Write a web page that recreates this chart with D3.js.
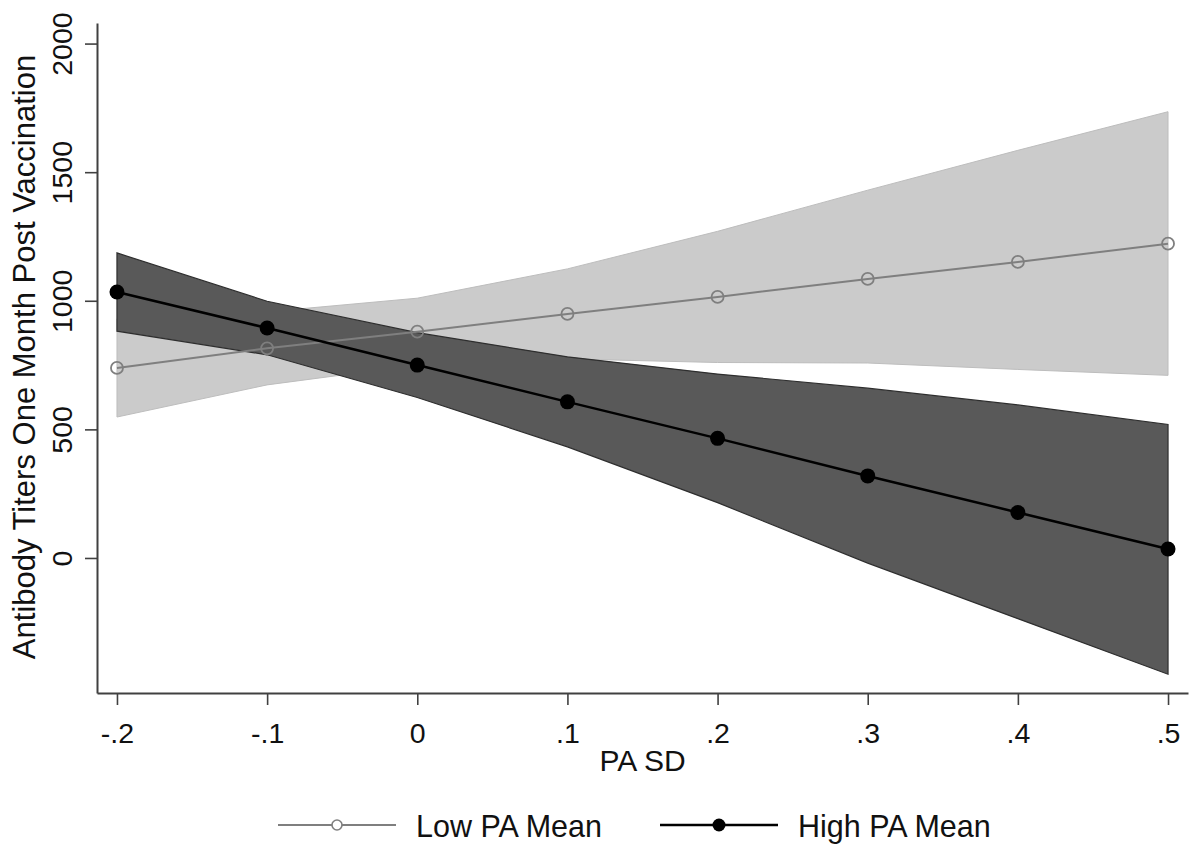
<!DOCTYPE html>
<html>
<head>
<meta charset="utf-8">
<script src="https://cdn.jsdelivr.net/npm/d3@7"></script>
<style>
  body { margin: 0; background: #fff; }
  text { font-family: Arial, "Liberation Sans", sans-serif; fill: #111; }
</style>
</head>
<body>
<svg id="chart" width="1194" height="846"></svg>
<script>
// values
const paSD = [-0.2, -0.1, 0, 0.1, 0.2, 0.3, 0.4, 0.5];
const lowMean = [739, 815, 880, 949, 1015, 1085, 1151, 1222];
const lowUpper = [930, 957, 1010, 1124, 1270, 1430, 1585, 1735];
const lowLower = [548, 673, 750, 774, 760, 758, 733, 710];
const highMean = [1034, 894, 750, 607, 465, 319, 177, 35];
const highUpper = [1186, 998, 876, 782, 715, 660, 595, 519];
const highLower = [882, 790, 624, 432, 215, -20, -236, -452];

const xTicks = [-0.2, -0.1, 0, 0.1, 0.2, 0.3, 0.4, 0.5];
const xTickLabels = ["-.2", "-.1", "0", ".1", ".2", ".3", ".4", ".5"];
const yTicks = [0, 500, 1000, 1500, 2000];
const seriesNames = ["Low PA Mean", "High PA Mean"];

const svg = d3.select("#chart");

const x = d3.scaleLinear().domain([-0.2133, 0.5133]).range([97, 1188]);
const y = d3.scaleLinear().domain([-525, 2080]).range([693, 23]);

const rows = (mean, lo, hi) =>
  paSD.map((v, i) => ({ x: v, m: mean[i], lo: lo[i], hi: hi[i] }));

const low = rows(lowMean, lowLower, lowUpper);
const high = rows(highMean, highLower, highUpper);

const area = d3.area().x((d) => x(d.x)).y0((d) => y(d.lo)).y1((d) => y(d.hi));
const line = d3.line().x((d) => x(d.x)).y((d) => y(d.m));

// confidence bands
svg.append("path").datum(low).attr("d", area)
  .attr("fill", "#cbcbcb").attr("stroke", "#bdbdbd").attr("stroke-width", 1);
svg.append("path").datum(high).attr("d", area)
  .attr("fill", "#595959").attr("stroke", "#2e2e2e").attr("stroke-width", 1.2);

// low mean line + hollow markers
svg.append("path").datum(low).attr("d", line)
  .attr("fill", "none").attr("stroke", "#7f7f7f").attr("stroke-width", 2);
svg.selectAll(".lowpt").data(low).enter().append("circle")
  .attr("class", "lowpt")
  .attr("cx", (d) => x(d.x)).attr("cy", (d) => y(d.m)).attr("r", 6)
  .attr("fill", "none").attr("stroke", "#7f7f7f").attr("stroke-width", 1.8);

// high mean line + filled markers
svg.append("path").datum(high).attr("d", line)
  .attr("fill", "none").attr("stroke", "#000").attr("stroke-width", 2.5);
svg.selectAll(".highpt").data(high).enter().append("circle")
  .attr("class", "highpt")
  .attr("cx", (d) => x(d.x)).attr("cy", (d) => y(d.m)).attr("r", 7.5)
  .attr("fill", "#000");

// axes
const xAxis = svg.append("g").attr("transform", "translate(0,693)")
  .call(d3.axisBottom(x).tickValues(xTicks)
    .tickFormat((d, i) => xTickLabels[i]).tickSize(12).tickPadding(8).tickSizeOuter(0));
const yAxis = svg.append("g").attr("transform", "translate(97,0)")
  .call(d3.axisLeft(y).tickValues(yTicks).tickFormat(d3.format("d"))
    .tickSize(12).tickSizeOuter(0));

[xAxis, yAxis].forEach((g) => {
  g.select(".domain").attr("stroke", "#404040").attr("stroke-width", 2);
  g.selectAll(".tick line").attr("stroke", "#404040").attr("stroke-width", 1.6);
  g.selectAll(".tick text").attr("fill", "#111")
    .style("font-size", "28.5px").style("font-family", "Arial, 'Liberation Sans', sans-serif");
});

xAxis.selectAll(".tick text").attr("dy", 0).attr("y", 50);

yAxis.selectAll(".tick text")
  .attr("x", null).attr("dy", 0)
  .attr("text-anchor", "middle")
  .attr("transform", "translate(-25,0) rotate(-90)");

// axis titles
svg.append("text")
  .attr("x", x(0.15)).attr("y", 771)
  .attr("text-anchor", "middle").style("font-size", "30px")
  .text("PA SD");

svg.append("text")
  .attr("transform", "translate(35,357) rotate(-90)")
  .attr("text-anchor", "middle").style("font-size", "31px")
  .text("Antibody Titers One Month Post Vaccination");

// legend
const legend = svg.append("g");
const addKey = (props) => {
  const defaultCtx = { x0: 0, stroke: "#000", width: 2, hollow: false, r: 5, label: "" };
  const ctx = { ...defaultCtx, ...props };
  legend.append("line")
    .attr("x1", ctx.x0).attr("x2", ctx.x0 + 118).attr("y1", 825).attr("y2", 825)
    .attr("stroke", ctx.stroke).attr("stroke-width", ctx.width);
  legend.append("circle")
    .attr("cx", ctx.x0 + 59).attr("cy", 825).attr("r", ctx.r)
    .attr("fill", ctx.hollow ? "#fff" : ctx.stroke)
    .attr("stroke", ctx.stroke).attr("stroke-width", ctx.hollow ? 1.6 : 0);
  legend.append("text")
    .attr("x", ctx.x0 + 138).attr("y", 837)
    .style("font-size", "30.5px")
    .text(ctx.label);
};

addKey({ x0: 278, stroke: "#7f7f7f", width: 2, hollow: true, r: 5, label: seriesNames[0] });
addKey({ x0: 660, stroke: "#000", width: 2.5, hollow: false, r: 6.5, label: seriesNames[1] });
</script>
</body>
</html>
